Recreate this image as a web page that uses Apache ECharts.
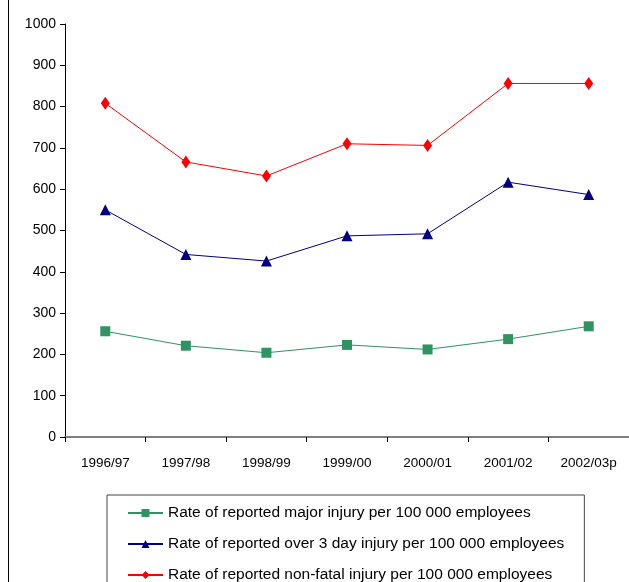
<!DOCTYPE html>
<html><head><meta charset="utf-8">
<script src="https://cdn.jsdelivr.net/npm/echarts@6/dist/echarts.min.js"></script>
<style>html,body{margin:0;padding:0;background:#fff;overflow:hidden}#c{width:629px;height:640px}</style>
</head><body><div id="c"></div>
<script>
var categories = ['1996/97','1997/98','1998/99','1999/00','2000/01','2001/02','2002/03p'];
var majorInjury = [256, 221, 204, 223, 212, 237, 268];
var over3Day = [550, 442, 426, 487, 492, 617, 587];
var nonFatal = [808, 666, 632, 710, 706, 856, 856];
var seriesNames = [
  'Rate of reported major injury per 100 000 employees',
  'Rate of reported over 3 day injury per 100 000 employees',
  'Rate of reported non-fatal injury per 100 000 employees'
];
var chart = echarts.init(document.getElementById('c'), null, {renderer:'canvas'});
var font = 'Liberation Sans, Arial, sans-serif';
chart.setOption({
  animation:false,
  backgroundColor:'#fff',
  textStyle:{fontFamily:font},
  graphic:[{type:'line',shape:{x1:8.5,y1:0,x2:8.5,y2:640},style:{stroke:'#000',lineWidth:1}}],
  grid:{left:65,right:0,top:24,bottom:203,containLabel:false},
  legend:{
    orient:'vertical', left:107, top:495,
    padding:[10,20,10,20], itemGap:15, itemWidth:35, itemHeight:10,
    borderColor:'#444', borderWidth:1,
    textStyle:{fontSize:15.5,lineHeight:16,color:'#000',fontFamily:font},
    data:seriesNames
  },
  xAxis:{
    type:'category', data:categories, boundaryGap:true,
    axisLine:{lineStyle:{color:'#808080',width:2}},
    axisTick:{show:true,interval:0,length:5,lineStyle:{color:'#000'}},
    axisLabel:{color:'#000',fontSize:13.5,margin:19,interval:0}
  },
  yAxis:{
    type:'value', min:0, max:1000, interval:100,
    axisLine:{show:true,lineStyle:{color:'#000'}},
    axisTick:{show:true,length:5,lineStyle:{color:'#000'}},
    splitLine:{show:false},
    axisLabel:{color:'#000',fontSize:14,margin:9,formatter:function(v){return String(v);}}
  },
  series:[
    {name:seriesNames[0],type:'line',data:majorInjury,symbol:'rect',symbolSize:10,
     itemStyle:{color:'#2E9462'},lineStyle:{color:'#2E9462',width:1}},
    {name:seriesNames[1],type:'line',data:over3Day,symbol:'triangle',symbolSize:11,
     itemStyle:{color:'#000080'},lineStyle:{color:'#000080',width:1}},
    {name:seriesNames[2],type:'line',data:nonFatal,symbol:'diamond',symbolSize:[9,13],
     itemStyle:{color:'#FF0000'},lineStyle:{color:'#FF0000',width:1}}
  ]
});
</script></body></html>
